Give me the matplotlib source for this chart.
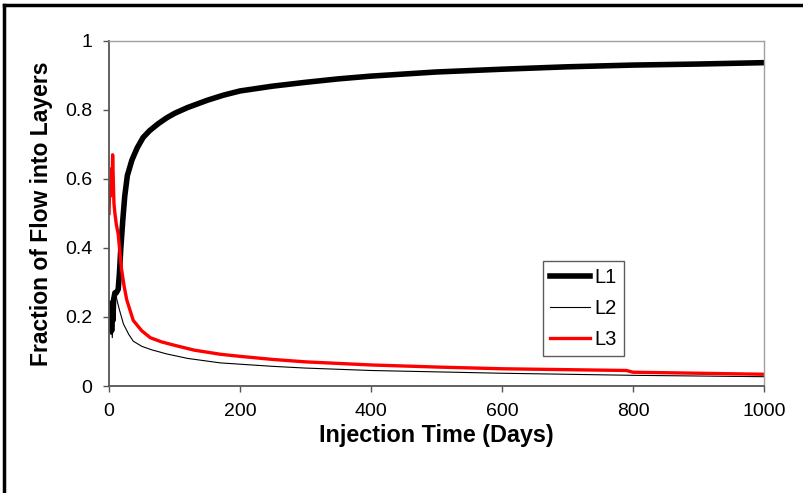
import matplotlib
matplotlib.use("Agg")
import matplotlib.pyplot as plt
from matplotlib.lines import Line2D

plt.rcParams['font.family'] = ['Liberation Sans', 'DejaVu Sans']

#### data (days, fraction)
days_l1 = [0, 1, 2, 3, 4, 5, 6, 7, 8, 9, 11, 14, 16, 18, 21, 24, 28, 35, 43, 52, 62, 75, 88,
           100, 120, 150, 175, 200, 250, 300, 350, 400, 450, 500, 600, 700, 800, 900, 1000]
frac_l1 = [0.20, 0.24, 0.18, 0.23, 0.16, 0.22, 0.19, 0.25, 0.26, 0.27, 0.27, 0.28, 0.33, 0.40, 0.48, 0.55, 0.61, 0.655, 0.69, 0.72, 0.74, 0.76, 0.777,
           0.79, 0.807, 0.828, 0.843, 0.855, 0.869, 0.88, 0.89, 0.898, 0.904, 0.91, 0.918, 0.925, 0.93, 0.933, 0.937]

days_l2 = [0, 1, 2, 3, 4, 5, 6, 7, 8, 10, 12, 16, 22, 30, 37, 50, 65, 88, 120, 170,
           250, 300, 400, 500, 600, 800, 1000]
frac_l2 = [0.20, 0.22, 0.17, 0.15, 0.19, 0.14, 0.20, 0.24, 0.26, 0.27, 0.25, 0.22, 0.18, 0.15, 0.13, 0.115, 0.105, 0.093, 0.08, 0.067,
           0.057, 0.052, 0.045, 0.041, 0.037, 0.031, 0.027]

days_l3 = [0, 1, 2, 3, 4, 5, 5.5, 6.5, 7.5, 9, 11, 14, 19, 23, 27, 37, 50, 63, 80, 100, 130, 170,
           200, 250, 300, 400, 500, 600, 790, 800, 1000]
frac_l3 = [0.50, 0.58, 0.55, 0.58, 0.63, 0.62, 0.67, 0.60, 0.53, 0.50, 0.47, 0.44, 0.34, 0.29, 0.25, 0.19, 0.16, 0.14, 0.128, 0.118, 0.104, 0.092,
           0.086, 0.077, 0.070, 0.061, 0.055, 0.050, 0.045, 0.040, 0.034]

x_ticks = [0, 200, 400, 600, 800, 1000]
y_ticks = [0, 0.2, 0.4, 0.6, 0.8, 1]
y_tick_labels = ['0', '0.2', '0.4', '0.6', '0.8', '1']

fig = plt.figure(figsize=(8.04, 4.93), dpi=100)
ax = fig.add_axes([0.1356, 0.217, 0.8146, 0.7])

ax.plot(days_l1, frac_l1, color='black', lw=4.0, label='L1')
ax.plot(days_l2, frac_l2, color='black', lw=0.8, label='L2')
ax.plot(days_l3, frac_l3, color='red', lw=2.4, label='L3')

ax.set_xlim(0, 1000)
ax.set_ylim(0, 1)
ax.set_xticks(x_ticks)
ax.set_yticks(y_ticks)
ax.set_yticklabels(y_tick_labels)
ax.tick_params(labelsize=14, length=4, width=1, color='#555555', pad=8)

for side in ['left', 'bottom']:
    ax.spines[side].set_color('#555555')
    ax.spines[side].set_linewidth(1.3)
for side in ['top', 'right']:
    ax.spines[side].set_color('#a0a0a0')
    ax.spines[side].set_linewidth(1.0)

ax.set_xlabel('Injection Time (Days)', fontsize=16.8, fontweight='bold', labelpad=3)
ax.set_ylabel('Fraction of Flow into Layers', fontsize=16.5, fontweight='bold', labelpad=9)

leg = ax.legend(loc='lower left', bbox_to_anchor=(0.6626, 0.087), borderaxespad=0,
                fontsize=14.5, frameon=True, fancybox=False, edgecolor='#333333',
                handlelength=2.0, labelspacing=0.6, borderpad=0.35, handletextpad=0.2)
leg.get_frame().set_linewidth(1.0)

## outer frame (only top and left show in the crop)
fig.add_artist(Line2D([0.005, 1.0], [0.99, 0.99], transform=fig.transFigure, color='black', lw=2.5))
fig.add_artist(Line2D([0.005, 0.005], [0.0, 0.99], transform=fig.transFigure, color='black', lw=2.5))

fig.savefig('out.png', dpi=100)
